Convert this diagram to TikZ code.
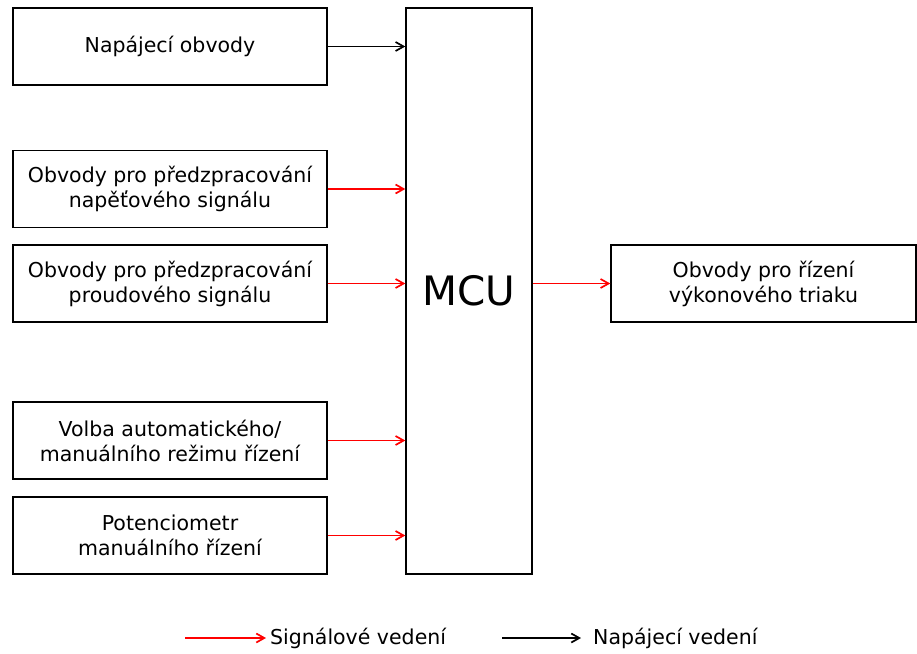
\documentclass[tikz,border=0pt]{standalone}
\usepackage{fontspec}
\setmainfont{DejaVu Sans}
\usetikzlibrary{arrows.meta}
\tikzset{
  blok/.style={draw, line width=1.4pt, minimum width=314pt, minimum height=77pt, align=center, font=\fontsize{20.5}{25}\selectfont, inner sep=0pt},
  sig/.style={draw=red, line width=1.7pt, -{Straight Barb[length=8pt,width=9pt]}},
  nap/.style={draw=black, line width=1.7pt, -{Straight Barb[length=8pt,width=9pt]}}
}
\begin{document}
\begin{tikzpicture}[x=1pt, y=-1pt]
  \useasboundingbox (0,0) rectangle (917,653);
  % bloky vlevo
  \node[blok] (napajeni) at (170,46.5) {Napájecí obvody};
  \node[blok] (napeti) at (170,189) {Obvody pro předzpracování\\napěťového signálu};
  \node[blok] (proud) at (170,283.5) {Obvody pro předzpracování\\proudového signálu};
  \node[blok] (volba) at (170,440.5) {Volba automatického/\\manuálního režimu řízení};
  \node[blok] (pot) at (170,535.5) {Potenciometr\\manuálního řízení};
  % mikrokontroler
  \node[draw, line width=1.4pt, minimum width=126pt, minimum height=566pt, inner sep=0pt, font=\fontsize{40.5}{44}\selectfont] (mcu) at (469,291) {MCU};
  % vystup
  \node[blok, minimum width=305pt] (triak) at (763.5,283.5) {Obvody pro řízení\\výkonového triaku};
  % spoje
  \draw[nap] (napajeni.east) -- (mcu.west |- napajeni.east);
  \draw[sig] (napeti.east) -- (mcu.west |- napeti.east);
  \draw[sig] (proud.east) -- (mcu.west |- proud.east);
  \draw[sig] (volba.east) -- (mcu.west |- volba.east);
  \draw[sig] (pot.east) -- (mcu.west |- pot.east);
  \draw[sig] (mcu.east |- triak.west) -- (triak.west);
  % legenda
  \coordinate (sigstart) at (185,638);
  \node[anchor=west, inner sep=0pt, font=\fontsize{20.5}{25}\selectfont] (sigtxt) at (270,638) {Signálové vedení};
  \coordinate (napstart) at (502,638);
  \node[anchor=west, inner sep=0pt, font=\fontsize{20.5}{25}\selectfont] (naptxt) at (593,638) {Napájecí vedení};
  \draw[sig] (sigstart) -- ([xshift=-4pt]sigtxt.west);
  \draw[nap] (napstart) -- ([xshift=-12pt]naptxt.west);
\end{tikzpicture}
\end{document}
